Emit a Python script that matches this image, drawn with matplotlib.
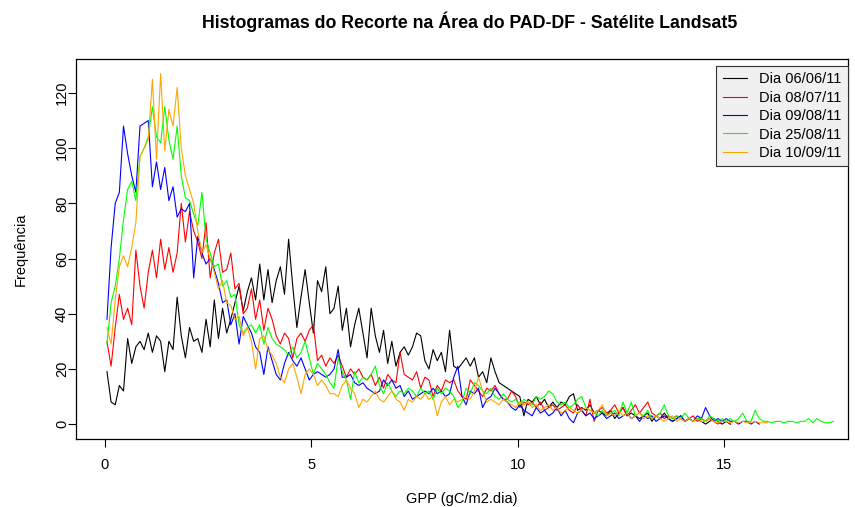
import numpy as np
import matplotlib
matplotlib.use("Agg")
import matplotlib.pyplot as plt

plt.rcParams['font.family'] = ['Liberation Sans', 'DejaVu Sans']

# frequencies per GPP bin (bin width 0.1, first centre 0.05)
dia_0606 = [19, 8, 7, 14, 12, 31, 22, 28, 30, 27, 33, 26, 32, 30, 19, 30, 27, 46, 32, 24,
            35, 30, 31, 26, 38, 28, 45, 31, 42, 33, 38, 44, 50, 41, 48, 53, 45, 58, 45, 56,
            44, 52, 57, 47, 67, 50, 35, 46, 56, 44, 33, 52, 48, 57, 40, 42, 50, 34, 42, 28,
            36, 42, 33, 24, 42, 32, 26, 34, 22, 30, 21, 26, 28, 25, 28, 33, 32, 23, 20, 27,
            23, 26, 19, 34, 21, 20, 22, 24, 21, 24, 17, 19, 15, 24, 19, 15, 14, 13, 12, 11,
            10, 3, 9, 8, 10, 7, 9, 6, 8, 6, 8, 7, 10, 11, 5, 6, 5, 7, 4, 5,
            4, 3, 5, 2, 4, 6, 3, 4, 3, 2, 3, 4, 1, 3, 2, 4, 2, 1, 2, 3,
            1, 2, 1, 2, 1, 0, 1, 2, 1, 0, 1, 0]
dia_0807 = [30, 21, 35, 47, 38, 42, 36, 63, 50, 42, 55, 63, 53, 67, 56, 64, 55, 62, 80, 66,
            77, 70, 66, 60, 73, 53, 62, 67, 55, 56, 62, 49, 51, 40, 42, 49, 38, 45, 34, 42,
            38, 32, 29, 33, 31, 24, 31, 33, 30, 34, 36, 23, 25, 21, 24, 22, 25, 21, 17, 20,
            18, 20, 17, 16, 18, 14, 17, 13, 18, 16, 15, 26, 18, 17, 16, 19, 13, 17, 16, 10,
            14, 12, 16, 15, 16, 12, 10, 9, 16, 14, 12, 10, 13, 12, 14, 11, 9, 9, 12, 10,
            6, 8, 7, 8, 6, 8, 5, 6, 7, 5, 6, 7, 5, 4, 7, 5, 3, 9, 1, 5,
            6, 4, 5, 7, 4, 6, 3, 5, 7, 4, 6, 8, 4, 3, 4, 2, 3, 2, 3, 2,
            1, 2, 3, 1, 2, 1, 2, 1, 0, 1, 1, 0]
dia_0908 = [38, 64, 80, 84, 108, 98, 90, 84, 108, 109, 110, 86, 95, 85, 93, 81, 86, 75, 78, 77,
            80, 53, 68, 62, 58, 60, 56, 51, 44, 45, 36, 40, 29, 39, 36, 33, 28, 26, 18, 28,
            23, 18, 16, 22, 26, 23, 21, 24, 20, 16, 18, 19, 18, 17, 18, 20, 27, 17, 17, 18,
            15, 14, 15, 13, 12, 11, 12, 16, 14, 16, 13, 14, 10, 12, 9, 10, 11, 12, 11, 13,
            11, 12, 10, 11, 17, 21, 10, 7, 12, 11, 13, 6, 9, 10, 13, 11, 9, 8, 6, 5,
            7, 5, 4, 3, 6, 4, 5, 3, 4, 6, 3, 5, 2, 0.5, 4, 5, 3, 4, 2, 3,
            4, 2, 3, 4, 2, 3, 4, 2, 3, 1, 3, 2, 3, 1, 2, 3, 2, 1, 2, 3,
            1, 2, 1, 3, 2, 6, 3, 1, 2, 1, 2, 1, 1, 0, 1, 1, 0, 1, 0]
dia_2508 = [29, 44, 50, 60, 74, 85, 88, 81, 97, 100, 104, 115, 104, 102, 115, 103, 96, 108, 90, 82,
            81, 76, 72, 84, 67, 62, 57, 58, 50, 52, 46, 47, 36, 33, 35, 36, 33, 36, 29, 35,
            31, 29, 28, 27, 25, 28, 24, 26, 30, 24, 18, 22, 20, 18, 15, 13, 24, 19, 16, 9,
            19, 15, 17, 16, 18, 21, 14, 11, 15, 12, 10, 12, 11, 13, 12, 10, 13, 11, 12, 9,
            13, 11, 13, 12, 10, 6, 8, 13, 11, 15, 14, 12, 11, 13, 10, 9, 11, 9, 8, 9,
            7, 9, 8, 7, 10, 9, 10, 12, 11, 8, 7, 8, 6, 7, 9, 10, 6, 5, 4, 3,
            5, 3, 4, 5, 3, 8, 4, 8, 3, 4, 3, 5, 2, 3, 4, 7, 3, 2, 3, 2,
            4, 2, 1, 2, 2, 1, 3, 2, 1, 2, 1, 2, 1, 2, 4, 1, 1, 5, 2, 1,
            1, 0.5, 1, 1, 0.5, 1, 1, 0.5, 1, 1, 2, 0.5, 2, 1, 0.5, 0.5, 1]
dia_1009 = [35, 29, 45, 57, 61, 57, 64, 73, 97, 100, 103, 125, 96, 127, 99, 114, 108, 122, 100, 90,
            85, 80, 70, 62, 65, 60, 55, 49, 52, 44, 43, 38, 39, 32, 35, 30, 20, 31, 32, 27,
            25, 22, 17, 15, 20, 22, 17, 11, 18, 20, 18, 14, 16, 14, 11, 11, 10, 14, 16, 13,
            11, 6, 9, 8, 10, 12, 9, 8, 10, 12, 9, 8, 5, 9, 8, 10, 9, 11, 9, 10,
            3, 8, 10, 7, 9, 8, 9, 10, 9, 12, 17, 12, 8, 9, 8, 7, 9, 8, 7, 6,
            8, 7, 8, 6, 7, 5, 6, 7, 5, 6, 4, 5, 6, 5, 4, 5, 6, 5, 4, 5,
            7, 3, 4, 3, 5, 3, 4, 2, 3, 4, 2, 3, 2, 3, 2, 1, 2, 3, 1, 2,
            1, 2, 1, 2, 1, 1, 2, 1, 0.5, 1, 1, 0.5, 1, 0.5, 1, 0.5, 0.5, 1, 0.5, 0.5,
            0.5]

series = [
    ("Dia 06/06/11", dia_0606, "black"),
    ("Dia 08/07/11", dia_0807, "red"),
    ("Dia 09/08/11", dia_0908, "blue"),
    ("Dia 25/08/11", dia_2508, "#00ff00"),
    ("Dia 10/09/11", dia_1009, "orange"),
]

fig = plt.figure(figsize=(8.55, 5.07), dpi=100)
ax = fig.add_axes([0.0889, 0.1341, 0.9029, 0.7495])

for label, vals, col in series:
    x = 0.05 + 0.1 * np.arange(len(vals))
    ax.plot(x, vals, color=col, lw=0.8, label=label)

ax.set_xlim(-0.70, 18.0)
ax.set_ylim(-5.4, 132.3)
ax.set_xticks([0, 5, 10, 15])
ax.set_yticks([0, 20, 40, 60, 80, 100, 120])
ax.tick_params(direction='out', length=6, width=0.8, labelsize=10.5, colors='black')
ax.tick_params(axis='x', pad=8)
ax.tick_params(axis='y', pad=-1)
for lab in ax.get_yticklabels():
    lab.set_rotation(90)
    lab.set_va('center')
for s in ax.spines.values():
    s.set_linewidth(0.9)

ax.set_xlabel("GPP (gC/m2.dia)", fontsize=10.5, labelpad=14)
ax.set_ylabel("Frequência", fontsize=10.5, labelpad=20)
fig.text(470 / 855, 1 - 22 / 507,
         "Histogramas do Recorte na Área do PAD-DF - Satélite Landsat5",
         fontsize=12.8, fontweight='bold', ha='center', va='center')

leg = ax.legend(loc='upper right', bbox_to_anchor=(1.0, 0.982), borderaxespad=0,
                fancybox=False, edgecolor='#333333', facecolor='#f0f0f0', framealpha=1,
                fontsize=10.5, handlelength=1.7, handletextpad=0.8, labelspacing=0.3,
                borderpad=0.45)
leg.get_frame().set_linewidth(0.8)

fig.savefig("out.png", dpi=100)
